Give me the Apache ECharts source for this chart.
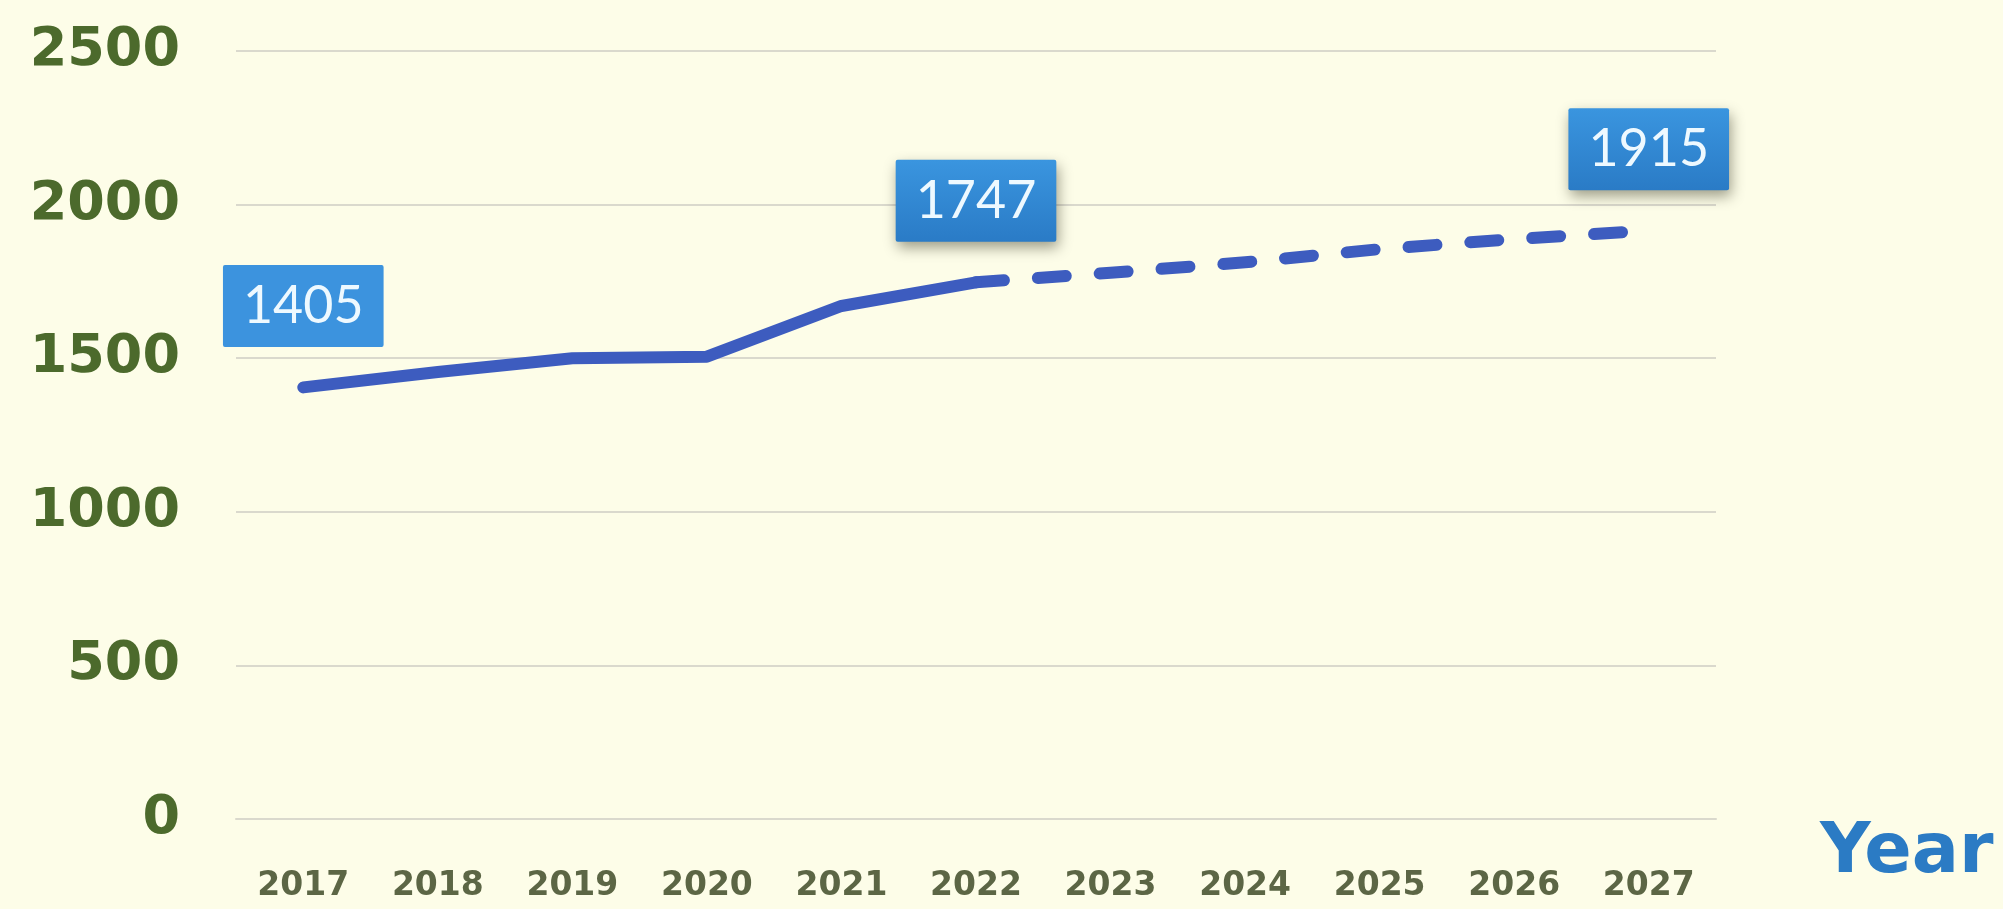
<!DOCTYPE html>
<html>
<head>
<meta charset="utf-8">
<script src="https://cdn.jsdelivr.net/npm/echarts@6/dist/echarts.min.js"></script>
<style>
  html, body { margin: 0; padding: 0; background: #fdfde8; }
  #chart { width: 2003px; height: 909px; }
</style>
</head>
<body>
<div id="chart"></div>
<script>
// Years on the category axis
const years = ['2017', '2018', '2019', '2020', '2021', '2022', '2023', '2024', '2025', '2026', '2027'];
// Recorded values, 2017–2022
const actualValues = [1405, 1455, 1500, 1505, 1670, 1747];
// Projected values, 2022–2027 (starts from the last recorded year)
const forecastValues = [1747, 1778, 1812, 1855, 1888, 1915];
// Years whose values get a callout box
const calloutYears = ['2017', '2022', '2027'];

const lineColor = '#3d5cbf';

function callout(shadow) {
  return {
    show: true,
    position: 'top',
    distance: 40,
    fontFamily: 'Lato',
    fontSize: 52,
    lineHeight: 52,
    color: '#eef9ff',
    padding: [15, 20],
    backgroundColor: shadow
      ? { type: 'linear', x: 0, y: 0, x2: 0, y2: 1,
          colorStops: [{ offset: 0, color: '#3a95df' }, { offset: 1, color: '#2a7bc6' }] }
      : '#3c93de',
    borderRadius: 2,
    shadowColor: shadow ? 'rgba(40,40,20,0.45)' : 'transparent',
    shadowBlur: shadow ? 14 : 0,
    shadowOffsetY: shadow ? 6 : 0,
    shadowOffsetX: shadow ? 2 : 0,
    formatter: '{c}'
  };
}

const forecastStart = actualValues.length - 1;

const solidData = years.map((y, i) => {
  if (i >= actualValues.length) return '-';
  const v = actualValues[i];
  if (calloutYears.includes(y)) return { value: v, label: callout(y !== '2017') };
  return v;
});

const dashedData = years.map((y, i) => {
  if (i < forecastStart) return '-';
  const v = forecastValues[i - forecastStart];
  if (i > forecastStart && calloutYears.includes(y)) return { value: v, label: callout(true) };
  return v;
});

const chart = echarts.init(document.getElementById('chart'), null, { renderer: 'canvas' });

chart.setOption({
  backgroundColor: '#fdfde8',
  animation: false,
  grid: {
    left: 236, right: 287, top: 51, bottom: 90,
    containLabel: false,
    outerBoundsMode: 'none'
  },
  xAxis: {
    type: 'category',
    data: years,
    boundaryGap: true,
    axisLine: { show: true, lineStyle: { color: '#dad9cd', width: 2 } },
    axisTick: { show: false },
    splitLine: { show: false },
    axisLabel: {
      margin: 51,
      fontFamily: 'DejaVu Sans',
      fontWeight: 'bold',
      fontSize: 33,
      color: '#5c6645'
    },
    name: 'Year',
    nameLocation: 'end',
    nameGap: 104,
    nameTextStyle: {
      fontFamily: 'DejaVu Sans',
      fontWeight: 'bold',
      fontSize: 70,
      color: '#2b7bc4',
      verticalAlign: 'top',
      padding: [0, 0, 0, 0]
    }
  },
  yAxis: {
    type: 'value',
    min: 0,
    max: 2500,
    interval: 500,
    axisLine: { show: false },
    axisTick: { show: false },
    splitLine: { lineStyle: { color: '#dad9cd', width: 2 } },
    axisLabel: {
      margin: 56,
      fontFamily: 'DejaVu Sans',
      fontWeight: 'bold',
      fontSize: 54,
      color: '#4c6a2c',
      formatter: (v) => String(v)
    }
  },
  series: [
    {
      name: 'Recorded',
      type: 'line',
      data: solidData,
      symbol: 'circle',
      symbolSize: 1,
      itemStyle: { color: 'rgba(0,0,0,0)' },
      lineStyle: { color: lineColor, width: 12, cap: 'round', join: 'round' },
      z: 3
    },
    {
      name: 'Projected',
      type: 'line',
      data: dashedData,
      symbol: 'circle',
      symbolSize: 1,
      itemStyle: { color: 'rgba(0,0,0,0)' },
      lineStyle: { color: lineColor, width: 12, type: [28, 34], cap: 'round', join: 'round' },
      z: 2
    }
  ]
});
</script>
</body>
</html>
